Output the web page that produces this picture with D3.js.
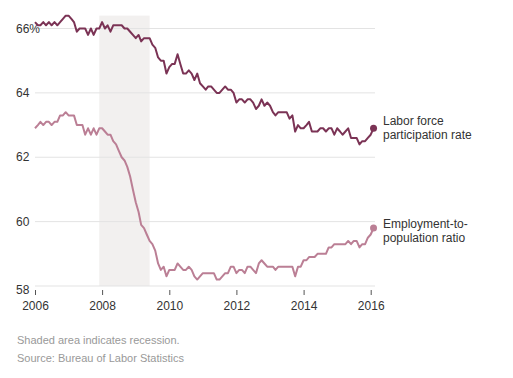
<!DOCTYPE html>
<html>
<head>
<meta charset="utf-8">
<script src="https://cdn.jsdelivr.net/npm/d3@7"></script>
<style>
  html, body { margin: 0; padding: 0; background: #fff; }
  svg { display: block; font-family: "Liberation Sans", Arial, sans-serif; }
</style>
</head>
<body>
<svg id="chart" width="513" height="378"></svg>
<script>
// Monthly data, Jan 2006 – Feb 2016 (percent)
const startMonth = "2006-01";
const participationRate = [
  66.2, 66.1, 66.1, 66.2, 66.1, 66.2, 66.1, 66.2, 66.1, 66.2, 66.3, 66.4,
  66.4, 66.3, 66.2, 65.9, 66.0, 66.0, 66.0, 65.8, 66.0, 65.8, 66.0, 66.0,
  66.2, 66.0, 66.1, 65.9, 66.1, 66.1, 66.1, 66.1, 66.0, 66.0, 65.9, 65.8,
  65.7, 65.8, 65.6, 65.7, 65.7, 65.7, 65.5, 65.4, 65.1, 65.0, 65.0, 64.6,
  64.8, 64.9, 64.9, 65.2, 64.9, 64.6, 64.6, 64.7, 64.6, 64.4, 64.6, 64.3,
  64.2, 64.1, 64.2, 64.2, 64.1, 64.0, 64.0, 64.1, 64.2, 64.1, 64.1, 64.0,
  63.7, 63.8, 63.8, 63.7, 63.8, 63.8, 63.7, 63.5, 63.6, 63.8, 63.6, 63.7,
  63.6, 63.4, 63.3, 63.4, 63.4, 63.4, 63.4, 63.2, 63.3, 62.8, 63.0, 62.9,
  62.9, 63.0, 63.1, 62.8, 62.8, 62.8, 62.9, 62.9, 62.8, 62.9, 62.9, 62.7,
  62.9, 62.8, 62.7, 62.8, 62.9, 62.6, 62.6, 62.6, 62.4, 62.5, 62.5, 62.6,
  62.7, 62.9
];
const employmentRatio = [
  62.9, 63.0, 63.1, 63.0, 63.1, 63.1, 63.0, 63.1, 63.1, 63.3, 63.3, 63.4,
  63.3, 63.3, 63.3, 63.0, 63.0, 63.0, 62.7, 62.9, 62.7, 62.9, 62.7, 62.9,
  62.9, 62.8, 62.7, 62.7, 62.5, 62.4, 62.2, 62.0, 61.9, 61.7, 61.4, 61.0,
  60.6, 60.3, 59.9, 59.8, 59.6, 59.4, 59.3, 59.1, 58.7, 58.5, 58.6, 58.3,
  58.5, 58.5, 58.5, 58.7, 58.6, 58.5, 58.5, 58.6, 58.5, 58.3, 58.2, 58.3,
  58.4, 58.4, 58.4, 58.4, 58.4, 58.2, 58.2, 58.3, 58.4, 58.4, 58.6, 58.6,
  58.4, 58.5, 58.5, 58.4, 58.6, 58.6, 58.5, 58.4, 58.7, 58.8, 58.7, 58.6,
  58.6, 58.6, 58.5, 58.6, 58.6, 58.6, 58.6, 58.6, 58.6, 58.3, 58.6, 58.6,
  58.8, 58.8, 58.9, 58.9, 58.9, 59.0, 59.0, 59.0, 59.0, 59.2, 59.2, 59.3,
  59.3, 59.3, 59.3, 59.3, 59.4, 59.3, 59.4, 59.4, 59.2, 59.3, 59.3, 59.5,
  59.6, 59.8
];
const seriesNames = [["Labor force", "participation rate"], ["Employment-to-", "population ratio"]];
const yTicks = [58, 60, 62, 64, 66];
const xTickYears = [2006, 2008, 2010, 2012, 2014, 2016];
const recession = ["2007-12-01", "2009-06-01"];
const notes = ["Shaded area indicates recession.", "Source: Bureau of Labor Statistics"];

const svg = d3.select("#chart");
const parseMonth = d3.timeParse("%Y-%m");
const t0 = parseMonth(startMonth);
const dates = participationRate.map((_, i) => d3.timeMonth.offset(t0, i));

const x = d3.scaleTime()
  .domain([new Date(2006, 0, 1), new Date(2016, 0, 1)])
  .range([35, 370.7]);
const y = d3.scaleLinear().domain([58, 66]).range([286, 28.5]);

const colors = ["#7b3355", "#bb7f95"];
const labelShift = [-3, 0];

// recession shading
svg.append("rect")
  .attr("x", x(new Date(recession[0])))
  .attr("width", x(new Date(recession[1])) - x(new Date(recession[0])))
  .attr("y", y(66.4))
  .attr("height", y(58) - y(66.4))
  .attr("fill", "#f2f0ef");

// gridlines
svg.append("g").selectAll("line").data(yTicks).join("line")
  .attr("x1", 35).attr("x2", 375)
  .attr("y1", d => y(d)).attr("y2", d => y(d))
  .attr("stroke", "#e3e3e3").attr("stroke-width", 1);

// y labels
svg.append("g").selectAll("text").data(yTicks).join("text")
  .attr("x", 16)
  .attr("y", d => y(d) + (d === 58 ? 8 : 4))
  .attr("font-size", 12).attr("fill", "#333")
  .text(d => d === 66 ? d + "%" : d);

// x axis
const xAxis = d3.axisBottom(x)
  .tickValues(xTickYears.map(yr => new Date(yr, 0, 1)))
  .tickFormat(d3.timeFormat("%Y"))
  .tickSize(5).tickPadding(6);
const gx = svg.append("g").attr("transform", `translate(0,${y(58) + 4})`).call(xAxis);
gx.select(".domain").remove();
gx.selectAll(".tick line").attr("stroke", "#555");
gx.selectAll(".tick text").attr("font-size", 12).attr("fill", "#333")
  .attr("font-family", "'Liberation Sans', Arial, sans-serif");

// lines
const line = d3.line().x((d, i) => x(dates[i])).y(d => y(d));
[participationRate, employmentRatio].forEach((s, k) => {
  svg.append("path").datum(s)
    .attr("d", line)
    .attr("fill", "none")
    .attr("stroke", colors[k])
    .attr("stroke-width", 2)
    .attr("stroke-linejoin", "round");
  const last = s.length - 1;
  svg.append("circle")
    .attr("cx", x(dates[last])).attr("cy", y(s[last]))
    .attr("r", 3.5).attr("fill", colors[k]);
  const lbl = svg.append("text")
    .attr("x", 383).attr("y", y(s[last]) + labelShift[k])
    .attr("font-size", 12).attr("fill", "#333");
  seriesNames[k].forEach((t, j) => {
    lbl.append("tspan").attr("x", 383).attr("dy", j === 0 ? 0 : 14).text(t);
  });
});

// notes
svg.append("g").selectAll("text").data(notes).join("text")
  .attr("x", 17).attr("y", (d, i) => 344 + i * 18)
  .attr("font-size", 11).attr("fill", "#999")
  .text(d => d);
</script>
</body>
</html>
